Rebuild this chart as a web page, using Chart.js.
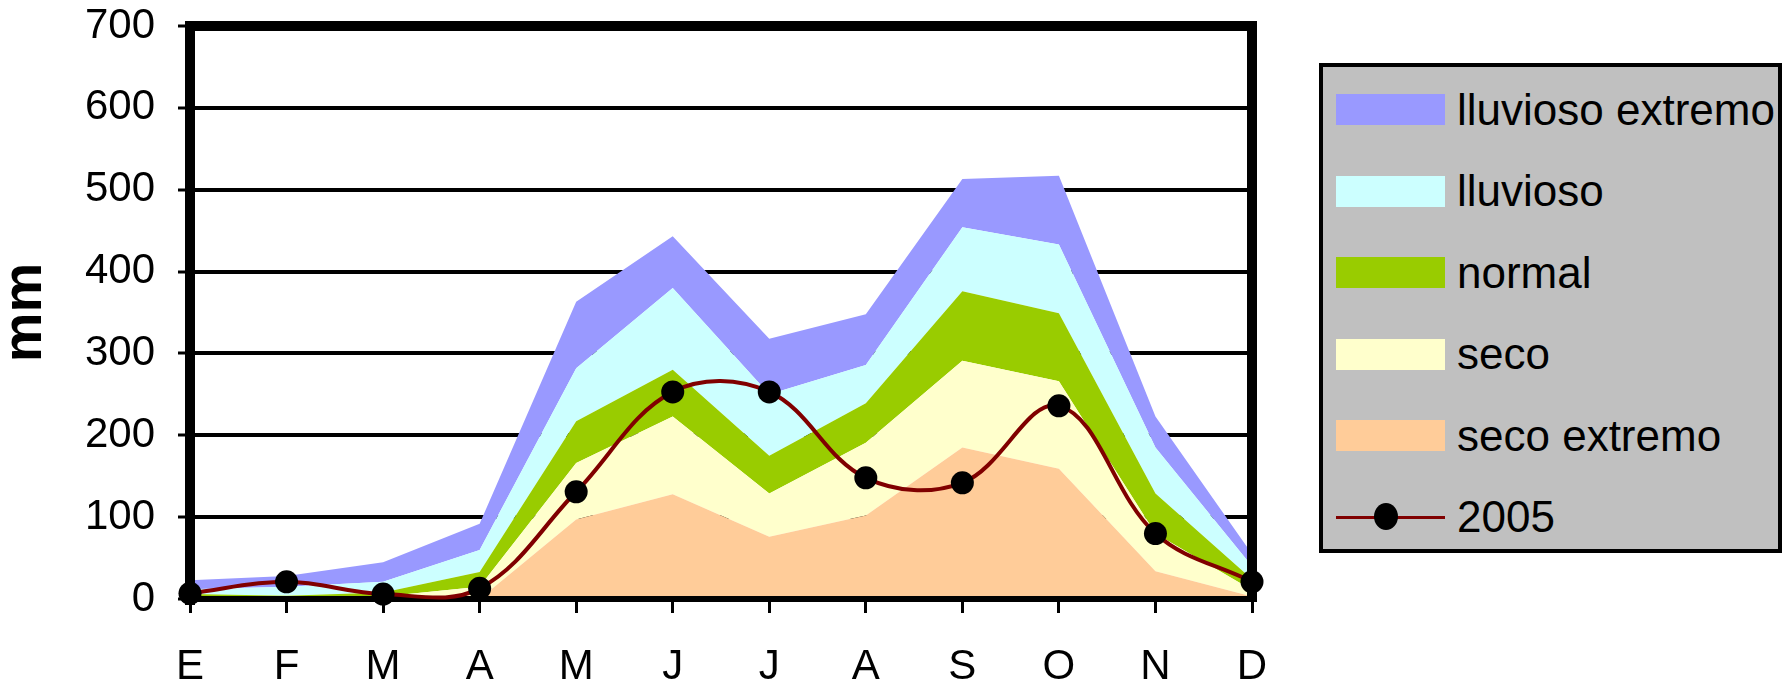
<!DOCTYPE html>
<html>
<head>
<meta charset="utf-8">
<script src="https://cdn.jsdelivr.net/npm/chart.js@4.4.1/dist/chart.umd.min.js"></script>
<style>
    body { margin: 0; background: #ffffff; }
    #wrap { position: relative; width: 1785px; height: 688px; }
    #legendBox {
        position: absolute; left: 1319px; top: 63px; width: 463px; height: 490px;
        box-sizing: border-box; border: 4px solid #000; background: #c0c0c0;
        padding: 2px 0 0 13px;
        font-family: "Liberation Sans", Arial, sans-serif; font-size: 44px; color: #000;
    }
    .legRow { height: 81.5px; display: flex; align-items: center; white-space: nowrap; }
    .legSwatch { width: 109px; height: 31px; margin-right: 12px; position: relative; flex: none; }
    .legLine { position: absolute; left: 0; right: 0; top: 14px; height: 3.5px; background: #800000; }
    .legDot { position: absolute; left: 38px; top: 1px; width: 24px; height: 27px; border-radius: 50%; background: #000; }
</style>
</head>
<body>
<div id="wrap">
    <canvas id="rainChart" width="1785" height="688"></canvas>
    <div id="legendBox"></div>
</div>
<script>
// Months (Spanish initials)
const MONTHS = ["E", "F", "M", "A", "M", "J", "J", "A", "S", "O", "N", "D"];

// Upper edge of each band, mm (bands are filled down to the one below)
const SECO_EXTREMO     = [0, 0, 0, 0, 97, 128, 76, 102, 185, 159, 34, 3];
const SECO             = [3, 2, 3, 15, 166, 223, 129, 191, 291, 266, 80, 11];
const NORMAL           = [6, 4, 8, 33, 217, 280, 175, 239, 376, 349, 129, 24];
const LLUVIOSO         = [12, 15, 21, 60, 282, 380, 250, 286, 454, 433, 185, 40];
const LLUVIOSO_EXTREMO = [23, 28, 45, 92, 363, 443, 318, 348, 513, 517, 223, 55];

// Observed rainfall 2005, mm
const YEAR_2005 = [7, 21, 6, 13, 131, 253, 253, 148, 142, 236, 80, 21];

// Y axis
const Y_MIN = 0;
const Y_MAX = 700;
const Y_STEP = 100;

// Series names and colours, bottom band first
const BAND_NAMES  = ["seco extremo", "seco", "normal", "lluvioso", "lluvioso extremo"];
const BAND_COLORS = ["#ffcc99", "#ffffcc", "#99cc00", "#ccffff", "#9999ff"];
const BAND_DATA   = [SECO_EXTREMO, SECO, NORMAL, LLUVIOSO, LLUVIOSO_EXTREMO];
const LINE_NAME   = "2005";
const LINE_COLOR  = "#800000";

const FONT = "'Liberation Sans', Arial, sans-serif";
const LINE_INDEX = BAND_DATA.length;


// Build datasets: stacked look by filling each band to the previous one
const datasets = BAND_DATA.map((values, i) => ({
    label: BAND_NAMES[i],
    data: values,
    backgroundColor: BAND_COLORS[i],
    borderWidth: 0,
    pointRadius: 0,
    tension: 0,
    fill: i === 0 ? "origin" : "-1"
}));

datasets.push({
    label: LINE_NAME,
    data: YEAR_2005,
    borderColor: LINE_COLOR,
    borderWidth: 4,
    backgroundColor: "#000000",
    pointBackgroundColor: "#000000",
    pointBorderWidth: 0,
    pointRadius: 11.5,
    tension: 0.37,
    fill: false,
    clip: false,
    order: -1
});


// Frame round the plot, drawn over the bands but under the 2005 line
const framePlugin = {
    id: "frame",
    beforeDatasetDraw(chart, args) {
        if (args.index !== LINE_INDEX) return;
        const ctx = chart.ctx;
        const a = chart.chartArea;
        ctx.save();
        ctx.strokeStyle = "#000000";
        ctx.lineWidth = 10;
        ctx.beginPath();
        ctx.moveTo(a.left, a.bottom + 6);
        ctx.lineTo(a.left, a.top);
        ctx.lineTo(a.right, a.top);
        ctx.lineTo(a.right, a.bottom + 3);
        ctx.stroke();
        ctx.lineWidth = 6;
        ctx.beginPath();
        ctx.moveTo(a.left - 5, a.bottom);
        ctx.lineTo(a.right + 5, a.bottom);
        ctx.stroke();
        ctx.restore();
    }
};


// DRAW CHART
const rainCtx = document.getElementById("rainChart").getContext("2d");
const rainChart = new Chart(rainCtx, {
    type: "line",
    data: {
        labels: MONTHS,
        datasets: datasets
    },
    options: {
        responsive: false,
        animation: false,
        layout: {
            padding: { left: 0, top: 26, right: 533, bottom: 0 }
        },
        elements: {
            line: { capBezierPoints: false }
        },
        scales: {
            x: {
                offset: false,
                afterFit: (scale) => { scale.height = 89; },
                grid: {
                    drawOnChartArea: false,
                    drawTicks: true,
                    tickLength: 14,
                    tickWidth: 3,
                    tickColor: "#000000"
                },
                border: { display: false },
                ticks: {
                    color: "#000000",
                    padding: 29,
                    maxRotation: 0,
                    autoSkip: false,
                    font: { family: FONT, size: 42 }
                }
            },
            y: {
                min: Y_MIN,
                max: Y_MAX,
                afterFit: (scale) => {
                    // fixed axis width, and no extra room above the 700 label
                    scale.width = 190;
                    scale.paddingTop = 0;
                    scale.paddingBottom = 0;
                },
                grid: {
                    color: "#000000",
                    lineWidth: 4,
                    drawTicks: true,
                    tickLength: 12,
                    tickWidth: 3,
                    tickColor: "#000000"
                },
                border: { display: false },
                ticks: {
                    stepSize: Y_STEP,
                    color: "#000000",
                    padding: 23,
                    font: { family: FONT, size: 42 }
                },
                title: {
                    display: true,
                    text: "mm",
                    color: "#000000",
                    padding: 0,
                    font: { family: FONT, size: 56, weight: "bold", lineHeight: 0.9 }
                }
            }
        },
        plugins: {
            legend: { display: false },
            tooltip: { enabled: false }
        }
    },
    plugins: [framePlugin]
});


// LEGEND (top band first, then the 2005 line)
function BuildLegend() {
    let html = "";
    for (let i = BAND_NAMES.length - 1; i >= 0; i--) {
        html += `<div class="legRow">
                    <span class="legSwatch" style="background:${BAND_COLORS[i]}"></span>
                    <span>${BAND_NAMES[i]}</span>
                 </div>`;
    }
    html += `<div class="legRow">
                <span class="legSwatch"><span class="legLine"></span><span class="legDot"></span></span>
                <span>${LINE_NAME}</span>
             </div>`;
    document.getElementById("legendBox").innerHTML = html;
}

BuildLegend();
</script>
</body>
</html>
